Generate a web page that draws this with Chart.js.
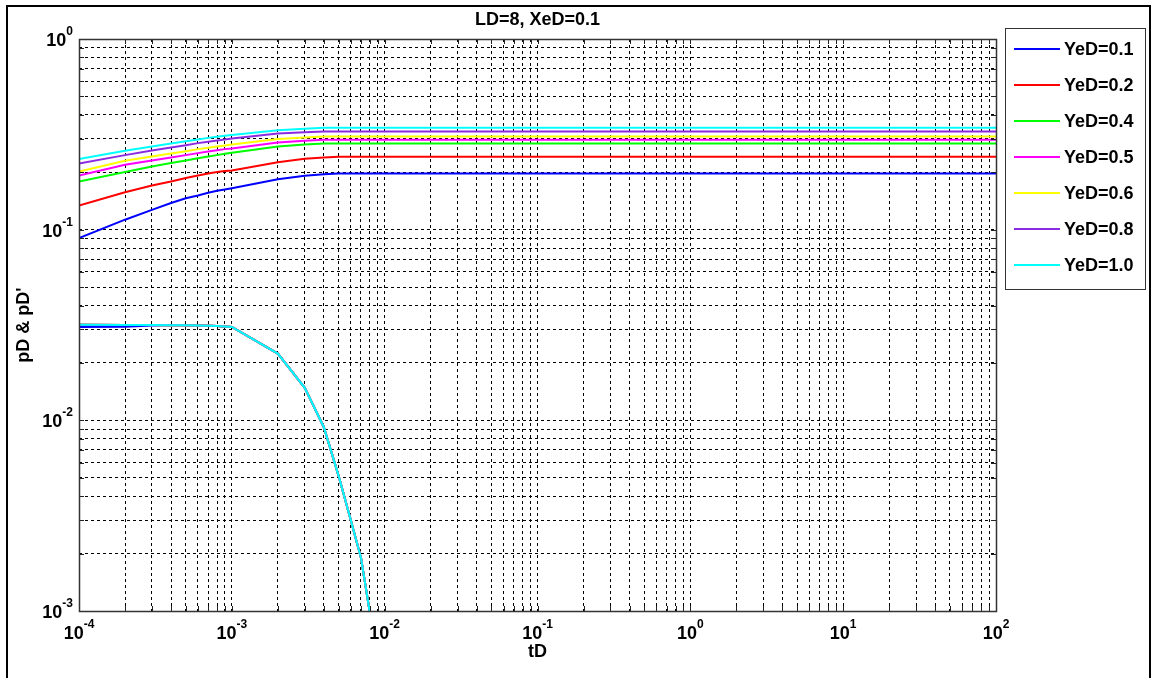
<!DOCTYPE html>
<html lang="en">
<head>
<meta charset="UTF-8">
<title>LD=8, XeD=0.1</title>
<script src="https://cdn.jsdelivr.net/npm/chart.js"></script>
<style>
    body { margin: 0; background: #fff; overflow: hidden; }
    canvas { position: absolute; left: 0; top: 0; }
    #frame {
        position: absolute; left: 6px; top: 5px;
        width: 1141px; height: 700px;
        border: 2px solid #000;
        pointer-events: none;
    }
</style>
</head>
<body>
<canvas id="pdChart" width="1152" height="678"></canvas>
<div id="frame"></div>

<script>
// time points (tD)
const tD = [
    1e-4, 2e-4, 3e-4, 4e-4, 5e-4, 6e-4, 7e-4, 8e-4, 9e-4,
    1e-3, 2e-3, 3e-3, 4e-3, 5e-3, 6e-3, 7e-3, 8e-3, 9e-3,
    1e-2, 1e2
];

const yeD = ['0.1', '0.2', '0.4', '0.5', '0.6', '0.8', '1.0'];
const colors = ['#0000ff', '#ff0000', '#00ff00', '#ff00ff', '#ffff00', '#8a2be2', '#00ffff'];

// pD for each YeD
const pD01 = [0.0904, 0.1128, 0.127, 0.1380, 0.146, 0.151, 0.156, 0.160, 0.1626, 0.165, 0.184, 0.192, 0.1955, 0.197, 0.197, 0.197, 0.197, 0.197, 0.197, 0.197];
const pD02 = [0.134, 0.157, 0.1706, 0.179, 0.1865, 0.1925, 0.197, 0.2005, 0.203, 0.2046, 0.226, 0.2353, 0.239, 0.241, 0.241, 0.241, 0.241, 0.241, 0.241, 0.241];
const pD04 = [0.179, 0.2005, 0.2146, 0.2235, 0.2306, 0.237, 0.242, 0.246, 0.250, 0.253, 0.273, 0.280, 0.283, 0.283, 0.283, 0.283, 0.283, 0.283, 0.283, 0.283];
const pD05 = [0.1925, 0.219, 0.2306, 0.239, 0.246, 0.252, 0.257, 0.261, 0.2645, 0.2667, 0.2865, 0.2924, 0.296, 0.296, 0.296, 0.296, 0.296, 0.296, 0.296, 0.296];
const pD06 = [0.202, 0.2297, 0.242, 0.251, 0.258, 0.2645, 0.2687, 0.273, 0.276, 0.280, 0.2985, 0.304, 0.308, 0.308, 0.308, 0.308, 0.308, 0.308, 0.308, 0.308];
const pD08 = [0.2225, 0.246, 0.260, 0.270, 0.2775, 0.2844, 0.289, 0.2935, 0.297, 0.3006, 0.319, 0.3246, 0.327, 0.327, 0.327, 0.327, 0.327, 0.327, 0.327, 0.327];
const pD10 = [0.2345, 0.2594, 0.273, 0.283, 0.291, 0.297, 0.303, 0.307, 0.3105, 0.314, 0.3326, 0.338, 0.342, 0.342, 0.342, 0.342, 0.342, 0.342, 0.342, 0.342];

// pD' (only the first 17 time points, up to 8e-3)
const dpD01 = [0.0309, 0.0310, 0.0314, 0.0315, 0.0315, 0.0314, 0.0313, 0.0312, 0.0311, 0.0309, 0.0224, 0.0148, 0.0092, 0.0051, 0.0030, 0.0019, 0.00098];
const dpD = [0.0317, 0.0316, 0.0316, 0.0315, 0.0315, 0.0314, 0.0313, 0.0312, 0.0311, 0.0309, 0.0224, 0.0148, 0.0092, 0.0051, 0.0030, 0.0019, 0.00098];

const pDSeries = [pD01, pD02, pD04, pD05, pD06, pD08, pD10];
const dpDSeries = [dpD01, dpD, dpD, dpD, dpD, dpD, dpD];

const xExponents = [-4, -3, -2, -1, 0, 1, 2];
const yExponents = [-3, -2, -1, 0];

const FONT = '"Liberation Sans", Arial, sans-serif';

function toPoints(xs, ys) {
    return ys.map((y, i) => ({ x: xs[i], y: y }));
}

// 1..9 x 10^k for every decade in [lo, hi]
function logTicks(lo, hi) {
    const out = [];
    for (let e = lo; e < hi; e++) {
        for (let k = 1; k <= 9; k++) out.push({ value: k * Math.pow(10, e) });
    }
    out.push({ value: Math.pow(10, hi) });
    return out;
}

const datasets = [];
yeD.forEach((v, i) => {
    datasets.push({
        label: 'YeD=' + v,
        data: toPoints(tD, pDSeries[i]),
        borderColor: colors[i],
        borderWidth: 2,
        pointRadius: 0,
        fill: false,
        order: 20 - i
    });
    datasets.push({
        label: 'YeD=' + v + " pD'",
        derivative: true,
        data: toPoints(tD, dpDSeries[i]),
        borderColor: colors[i],
        borderWidth: 2,
        pointRadius: 0,
        fill: false,
        order: 20 - i
    });
});

// draws "10" with a raised exponent
function drawPow(ctx, exp, x, y, align) {
    ctx.font = 'bold 18px ' + FONT;
    const wBase = ctx.measureText('10').width;
    ctx.font = 'bold 12px ' + FONT;
    const expStr = String(exp);
    const wExp = ctx.measureText(expStr).width;
    const total = wBase + wExp;
    let x0 = align === 'center' ? x - total / 2 : x - total;
    ctx.textAlign = 'left';
    ctx.textBaseline = 'alphabetic';
    ctx.font = 'bold 18px ' + FONT;
    ctx.fillText('10', x0, y);
    ctx.font = 'bold 12px ' + FONT;
    ctx.fillText(expStr, x0 + wBase, y - 11);
}

const decorations = {
    id: 'decorations',
    afterDraw(chart) {
        const ctx = chart.ctx;
        const a = chart.chartArea;
        const xs = chart.scales.x, ys = chart.scales.y;
        ctx.save();
        ctx.fillStyle = '#000';

        // inward tick marks on all four sides
        ctx.strokeStyle = '#222';
        ctx.lineWidth = 1;
        ctx.beginPath();
        xs.ticks.forEach(t => {
            const px = Math.round(xs.getPixelForValue(t.value)) + 0.5;
            ctx.moveTo(px, a.bottom); ctx.lineTo(px, a.bottom - 5);
            ctx.moveTo(px, a.top); ctx.lineTo(px, a.top + 5);
        });
        ys.ticks.forEach(t => {
            const py = Math.round(ys.getPixelForValue(t.value)) + 0.5;
            ctx.moveTo(a.left, py); ctx.lineTo(a.left + 5, py);
            ctx.moveTo(a.right, py); ctx.lineTo(a.right - 5, py);
        });
        ctx.stroke();

        // axes box
        ctx.strokeStyle = '#333';
        ctx.lineWidth = 1.5;
        ctx.strokeRect(Math.round(a.left) + 0.5, Math.round(a.top) + 0.5,
            Math.round(a.right - a.left), Math.round(a.bottom - a.top));

        // tick labels
        xExponents.forEach(e => {
            drawPow(ctx, e, xs.getPixelForValue(Math.pow(10, e)), a.bottom + 28, 'center');
        });
        yExponents.forEach(e => {
            drawPow(ctx, e, a.left - 6, ys.getPixelForValue(Math.pow(10, e)) + 7, 'right');
        });

        // title and axis titles
        ctx.font = 'bold 18px ' + FONT;
        ctx.textAlign = 'center';
        ctx.textBaseline = 'alphabetic';
        const cx = (a.left + a.right) / 2;
        ctx.fillText('LD=8, XeD=0.1', cx, 25);
        ctx.fillText('tD', cx, 657);
        ctx.save();
        ctx.translate(29, (a.top + a.bottom) / 2);
        ctx.rotate(-Math.PI / 2);
        ctx.fillText("pD & pD'", 0, 0);
        ctx.restore();

        // legend
        const lx = 1005, ly = 28, lw = 140, lh = 261;
        ctx.fillStyle = '#fff';
        ctx.fillRect(lx, ly, lw, lh);
        ctx.strokeStyle = '#333';
        ctx.lineWidth = 1;
        ctx.strokeRect(lx + 0.5, ly + 0.5, lw, lh);
        const items = chart.data.datasets.filter(d => !d.derivative);
        items.forEach((d, i) => {
            const y = 49 + i * 36;
            ctx.strokeStyle = d.borderColor;
            ctx.lineWidth = 2;
            ctx.beginPath();
            ctx.moveTo(1014, y);
            ctx.lineTo(1060, y);
            ctx.stroke();
            ctx.fillStyle = '#000';
            ctx.font = 'bold 18px ' + FONT;
            ctx.textAlign = 'left';
            ctx.textBaseline = 'middle';
            ctx.fillText(d.label, 1064, y + 1);
        });
        ctx.restore();
    }
};

const gridOpts = { color: '#000', lineWidth: 1, drawTicks: false };
const borderOpts = { display: false, dash: [3, 3] };

new Chart(document.getElementById('pdChart'), {
    type: 'line',
    data: { datasets: datasets },
    options: {
        responsive: false,
        animation: false,
        layout: { autoPadding: false, padding: { left: 79, top: 39, right: 156, bottom: 67 } },
        plugins: { legend: { display: false }, tooltip: { enabled: false } },
        elements: { line: { tension: 0 } },
        scales: {
            x: {
                type: 'logarithmic',
                min: 1e-4, max: 1e2,
                afterBuildTicks: s => { s.ticks = logTicks(-4, 2); },
                ticks: { display: false },
                grid: gridOpts,
                border: borderOpts
            },
            y: {
                type: 'logarithmic',
                min: 1e-3, max: 1,
                afterBuildTicks: s => { s.ticks = logTicks(-3, 0); },
                ticks: { display: false },
                grid: gridOpts,
                border: borderOpts
            }
        }
    },
    plugins: [decorations]
});
</script>
</body>
</html>
